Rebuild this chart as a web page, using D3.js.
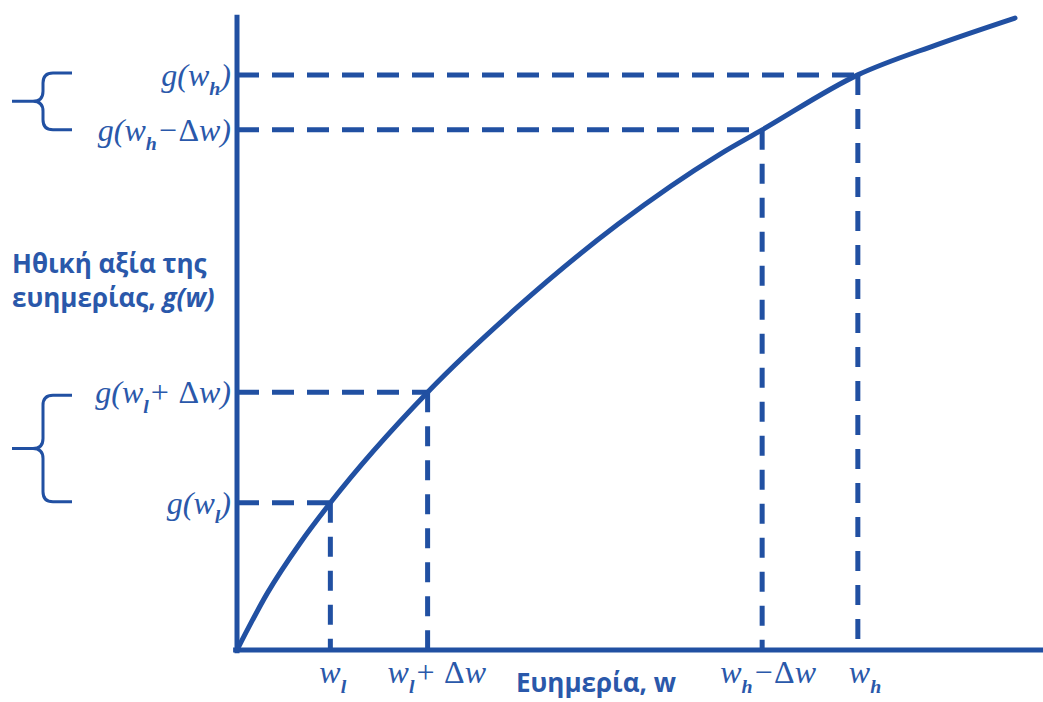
<!DOCTYPE html>
<html>
<head>
<meta charset="utf-8">
<script src="https://cdn.jsdelivr.net/npm/d3@7"></script>
<style>
  html, body { margin: 0; padding: 0; background: #ffffff; }
  svg { display: block; }
</style>
</head>
<body>
<svg id="chart" width="1043" height="702"></svg>
<script>
// ---- data ----
const wealth    = [0, 3.9, 8.1, 12, 24.5, 36, 49, 62, 67.5, 79.8, 90, 100];
const wellbeing = [0, 9.0, 16.9, 23.3, 40.8, 54.2, 67.4, 78.4, 82.3, 91.0, 95.8, 100];

const markW = [12, 24.5, 67.5, 79.8];        // w_l, w_l+Δw, w_h−Δw, w_h
const markG = [23.3, 40.8, 82.3, 91.0];      // g at those points

// label parts: [text, kind]  kind: "" italic, "sub" subscript, "up" upright
const xTickLabels = [
  [["w",""],["l","sub"]],
  [["w",""],["l","sub"],["+ ",""],["Δ","up"],["w",""]],
  [["w",""],["h","sub"],["−",""],["Δ","up"],["w",""]],
  [["w",""],["h","sub"]]
];
const yTickLabels = [
  [["g(w",""],["l","sub"],[")",""]],
  [["g(w",""],["l","sub"],["+ ",""],["Δ","up"],["w)",""]],
  [["g(w",""],["h","sub"],["−",""],["Δ","up"],["w)",""]],
  [["g(w",""],["h","sub"],[")",""]]
];
const yTitle = ["Ηθική αξία της", "ευημερίας, ", "g(w)"];
const xTitle = "Ευημερία, w";

// ---- drawing ----
const blue = "#2150a2";
const textBlue = "#2a58aa";
const svg = d3.select("#chart");

const x = d3.scaleLinear().domain([0, 100]).range([237, 1015]);
const y = d3.scaleLinear().domain([0, 100]).range([650, 18]);

// dashed guides
markW.forEach((w, i) => {
  svg.append("line")
    .attr("x1", x(0)).attr("x2", x(w))
    .attr("y1", y(markG[i])).attr("y2", y(markG[i]))
    .attr("stroke", blue).attr("stroke-width", 5)
    .attr("stroke-dasharray", "22,13");
  svg.append("line")
    .attr("x1", x(w)).attr("x2", x(w))
    .attr("y1", y(markG[i])).attr("y2", y(0))
    .attr("stroke", blue).attr("stroke-width", 5)
    .attr("stroke-dasharray", "20,14");
});

// axes
svg.append("line")
  .attr("x1", x(0)).attr("x2", x(0))
  .attr("y1", y(100.5)).attr("y2", y(-0.5))
  .attr("stroke", blue).attr("stroke-width", 5);
svg.append("line")
  .attr("x1", x(-0.5)).attr("x2", 1043)
  .attr("y1", y(0)).attr("y2", y(0))
  .attr("stroke", blue).attr("stroke-width", 5);

// curve
const pts = wealth.map((w, i) => [w, wellbeing[i]]);
svg.append("path")
  .datum(pts)
  .attr("d", d3.line().x(d => x(d[0])).y(d => y(d[1])).curve(d3.curveMonotoneX))
  .attr("fill", "none")
  .attr("stroke", blue)
  .attr("stroke-width", 5)
  .attr("stroke-linecap", "round");

// rich label helper
function rich(g, parts, size) {
  let lowered = false;
  parts.forEach(([txt, kind]) => {
    const t = g.append("tspan").text(txt);
    if (kind === "sub") {
      t.attr("font-size", size * 0.62).attr("font-weight", "bold").attr("dy", size * 0.3);
      lowered = true;
    } else {
      if (lowered) { t.attr("dy", -size * 0.3); lowered = false; }
      if (kind === "up") t.attr("font-style", "normal");
    }
  });
}

const serif = "'Liberation Serif', 'DejaVu Serif', serif";
const fs = 32;

// y tick labels
markG.forEach((g, i) => {
  const t = svg.append("text")
    .attr("x", 231).attr("y", y(g) + 11)
    .attr("text-anchor", "end")
    .attr("font-family", serif).attr("font-style", "italic")
    .attr("font-size", fs).attr("fill", textBlue);
  rich(t, yTickLabels[i], fs);
});

// x tick labels
const xLabelShift = [-11, -40, -42, -9];
markW.forEach((w, i) => {
  const t = svg.append("text")
    .attr("x", x(w) + xLabelShift[i]).attr("y", 683)
    .attr("text-anchor", "start")
    .attr("font-family", serif).attr("font-style", "italic")
    .attr("font-size", fs).attr("fill", textBlue);
  rich(t, xTickLabels[i], fs);
});

// axis titles
const sans = "'Open Sans', 'Noto Sans', sans-serif";
svg.append("text")
  .attr("x", 12).attr("y", 273)
  .attr("font-family", sans).attr("font-weight", "bold")
  .attr("font-size", 26).attr("fill", textBlue)
  .text(yTitle[0]);
const t2 = svg.append("text")
  .attr("x", 12).attr("y", 307)
  .attr("font-family", sans).attr("font-weight", "bold")
  .attr("font-size", 26).attr("fill", textBlue);
t2.append("tspan").text(yTitle[1]);
t2.append("tspan").attr("font-style", "italic").text(yTitle[2]);

svg.append("text")
  .attr("x", 596).attr("y", 692)
  .attr("text-anchor", "middle")
  .attr("font-family", sans).attr("font-weight", "bold")
  .attr("font-size", 26).attr("fill", textBlue)
  .text(xTitle);

// braces
function brace(yTop, yBot) {
  const xr = 72, xv = 43, xt = 12, r = 10;
  const ym = (yTop + yBot) / 2;
  const p = d3.path();
  p.moveTo(xr, yTop);
  p.lineTo(xv + r, yTop);
  p.quadraticCurveTo(xv, yTop, xv, yTop + r);
  p.lineTo(xv, ym - r);
  p.quadraticCurveTo(xv, ym, xv - r, ym);
  p.lineTo(xt, ym);
  p.moveTo(xv - r, ym);
  p.quadraticCurveTo(xv, ym, xv, ym + r);
  p.lineTo(xv, yBot - r);
  p.quadraticCurveTo(xv, yBot, xv + r, yBot);
  p.lineTo(xr, yBot);
  svg.append("path").attr("d", p.toString())
    .attr("fill", "none").attr("stroke", blue).attr("stroke-width", 3);
}
brace(y(markG[3]) - 2, y(markG[2]));
brace(y(markG[1]) + 3, y(markG[0]) - 1);
</script>
</body>
</html>
